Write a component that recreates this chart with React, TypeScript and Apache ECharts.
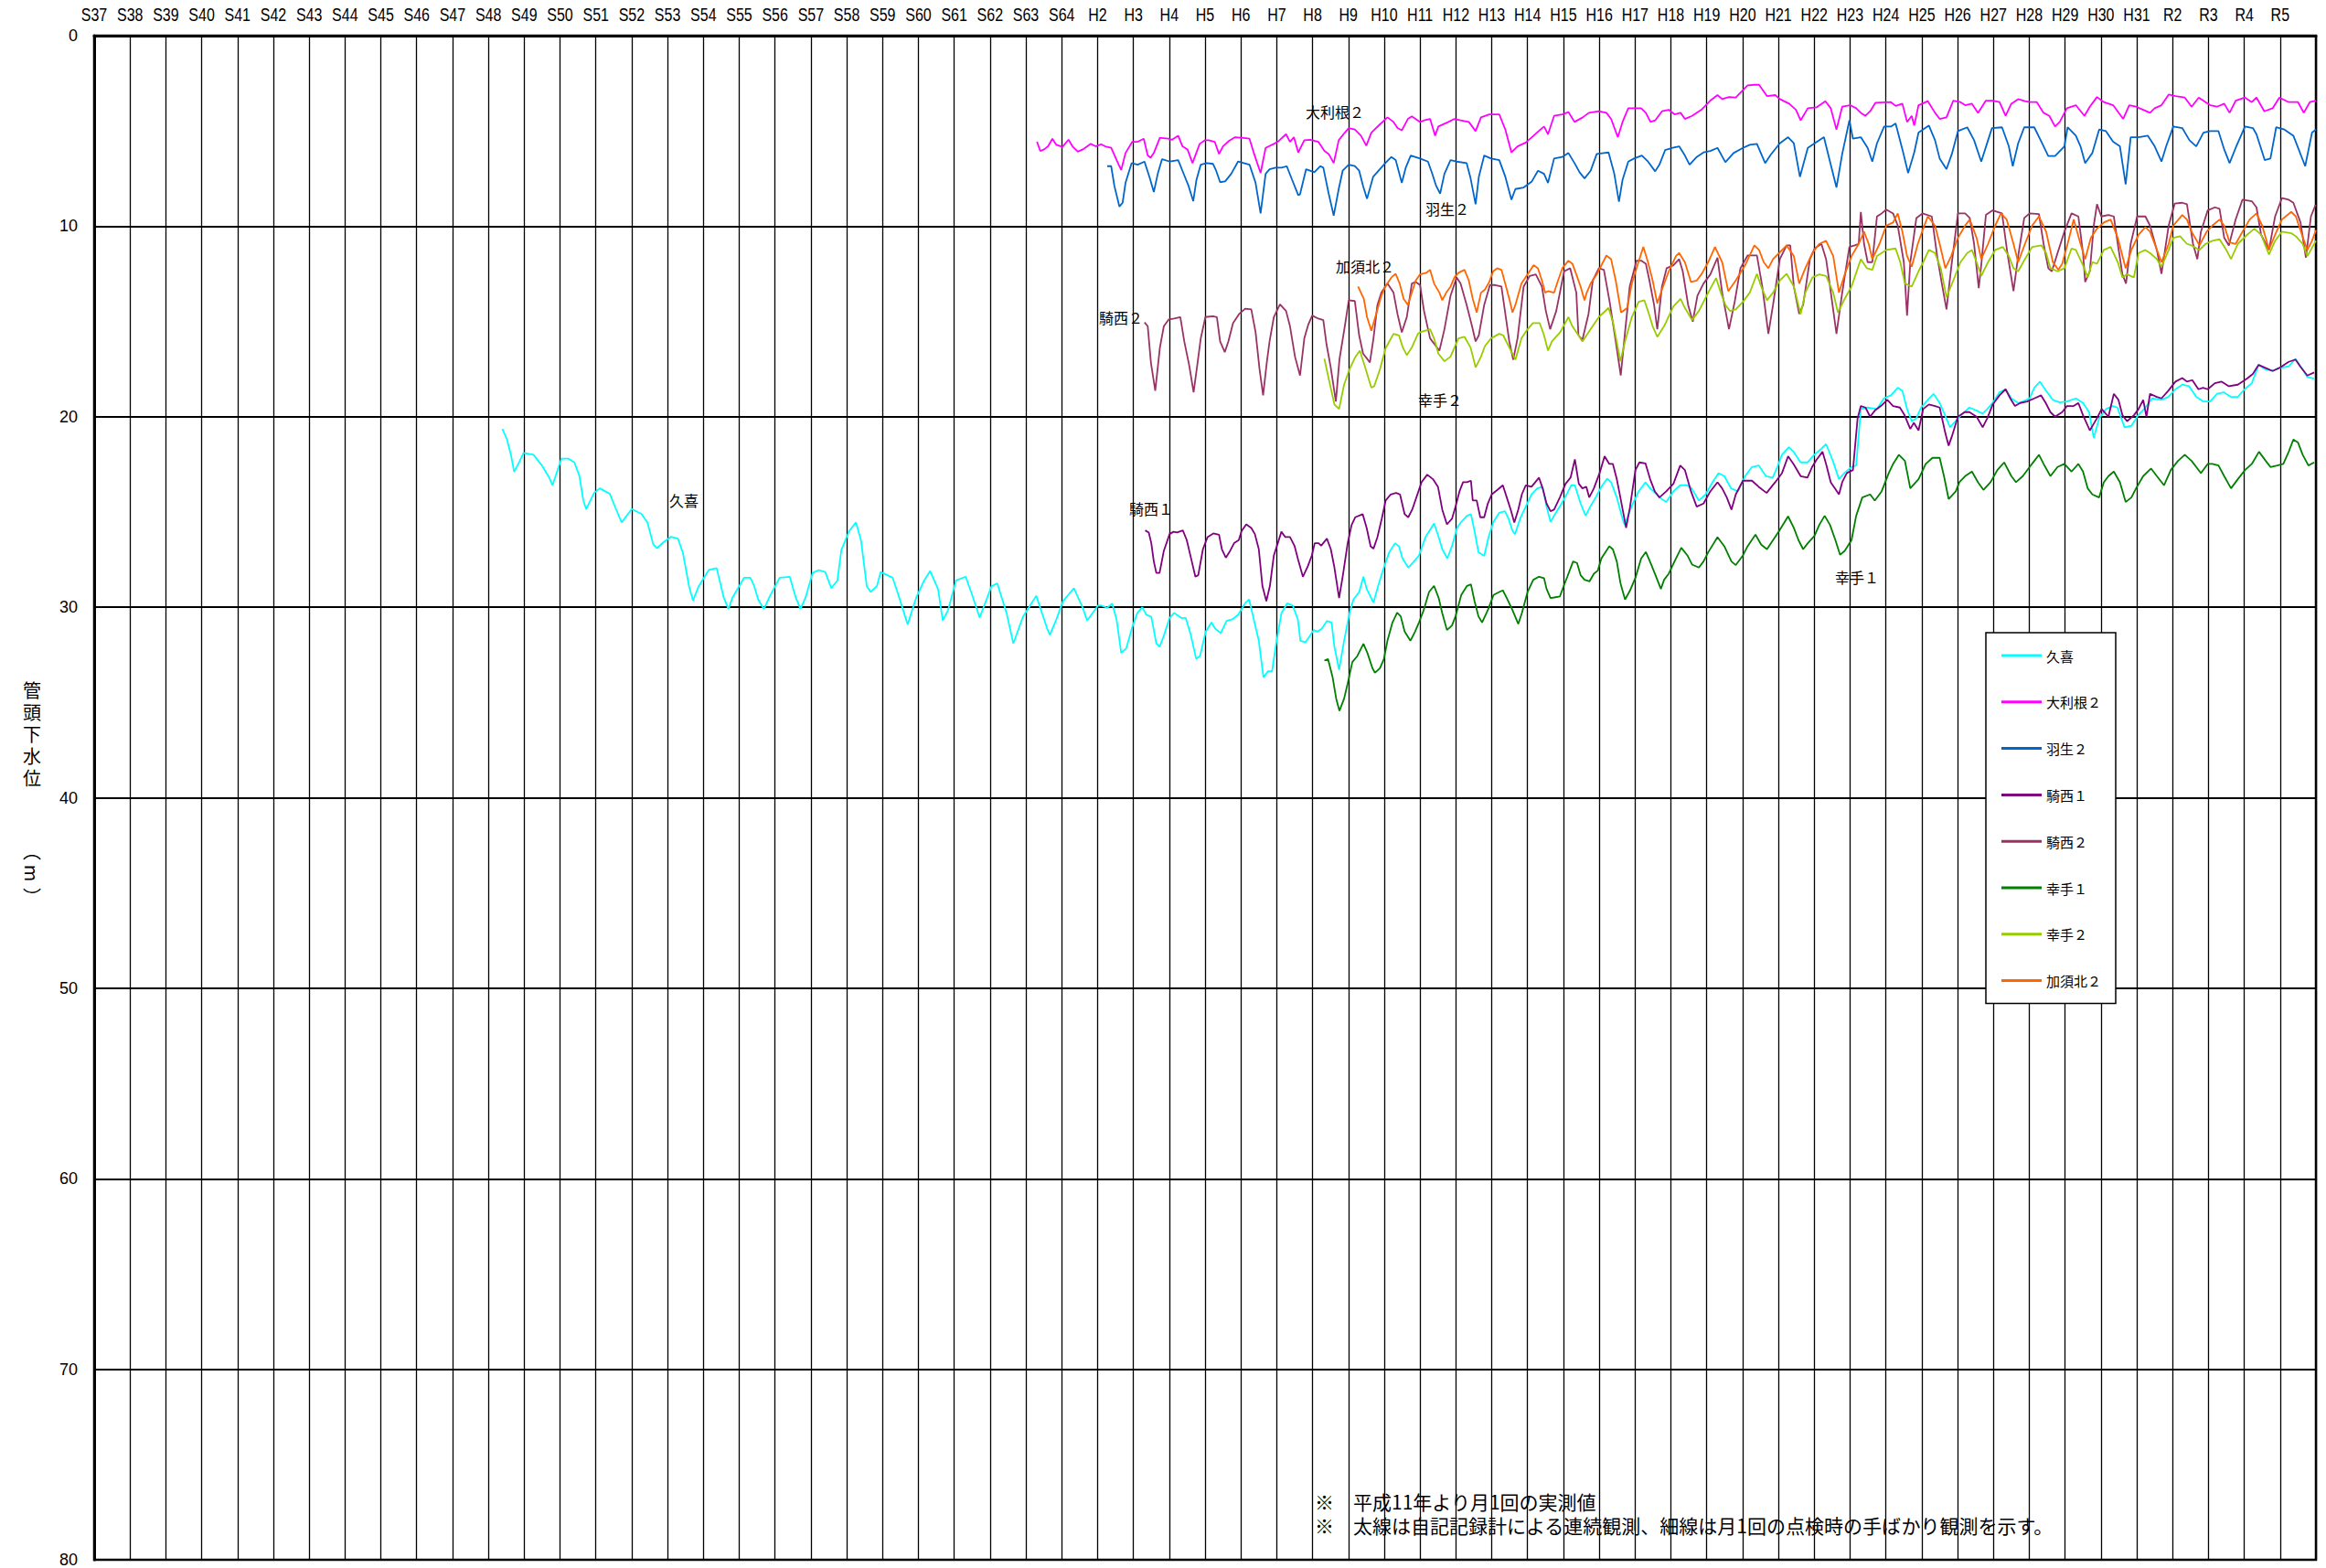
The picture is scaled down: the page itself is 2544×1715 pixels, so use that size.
import React, { useEffect, useRef } from 'react';
import * as echarts from 'echarts';

const yearLabels = [
  'S37','S38','S39','S40','S41','S42','S43','S44','S45','S46','S47','S48','S49','S50','S51','S52','S53','S54','S55','S56',
  'S57','S58','S59','S60','S61','S62','S63','S64','H2','H3','H4','H5','H6','H7','H8','H9','H10','H11','H12','H13',
  'H14','H15','H16','H17','H18','H19','H20','H21','H22','H23','H24','H25','H26','H27','H28','H29','H30','H31','R2','R3',
  'R4','R5'
];
const firstYear = 1962;
const lastYear = 2024;

const seriesNames = ['久喜', '大利根２', '羽生２', '騎西１', '騎西２', '幸手１', '幸手２', '加須北２'];
const seriesColors = ['#00FFFF', '#FF00FF', '#0066CC', '#800080', '#993366', '#008000', '#99CC00', '#FF6600'];

// [year, depth below well head (m)]
const kuki = [
  [1973.39,20.64],[1973.52,21.2],[1973.63,22.0],[1973.72,22.9],[1973.87,22.35],[1973.98,21.9],[1974.26,22.0],[1974.51,22.6],[1974.7,23.2],[1974.79,23.6],
  [1975.04,22.2],[1975.23,22.2],[1975.4,22.4],[1975.54,23.1],[1975.65,24.4],[1975.73,24.85],[1975.95,24.0],[1976.11,23.76],[1976.39,24.05],[1976.55,24.8],
  [1976.72,25.55],[1977.0,24.85],[1977.27,25.1],[1977.44,25.55],[1977.6,26.7],[1977.71,26.9],[1977.88,26.6],[1978.1,26.3],[1978.29,26.4],[1978.43,27.15],
  [1978.6,28.9],[1978.71,29.65],[1978.87,28.9],[1979.15,28.05],[1979.37,27.95],[1979.57,29.5],[1979.7,30.1],[1979.81,29.5],[1980.14,28.45],[1980.31,28.45],
  [1980.42,28.9],[1980.53,29.6],[1980.69,30.1],[1980.86,29.4],[1981.13,28.45],[1981.41,28.4],[1981.58,29.5],[1981.71,30.1],[1981.85,29.5],[1982.05,28.2],
  [1982.22,28.05],[1982.4,28.15],[1982.57,29.0],[1982.74,28.6],[1982.85,27.0],[1983.07,26.0],[1983.26,25.55],[1983.4,26.5],[1983.56,28.9],[1983.67,29.2],
  [1983.84,28.9],[1983.95,28.15],[1984.28,28.45],[1984.45,29.4],[1984.7,30.9],[1984.94,29.5],[1985.16,28.6],[1985.33,28.1],[1985.55,29.05],[1985.68,30.7],
  [1985.83,30.15],[1986.05,28.6],[1986.32,28.4],[1986.49,29.3],[1986.71,30.55],[1987.04,28.9],[1987.2,28.75],[1987.46,30.3],[1987.65,31.9],[1987.92,30.5],
  [1988.29,29.4],[1988.59,31.1],[1988.67,31.45],[1988.86,30.6],[1989.03,29.7],[1989.34,29.0],[1989.58,30.0],[1989.71,30.7],[1990.02,29.9],[1990.11,29.92],
  [1990.27,30.03],[1990.41,29.81],[1990.53,30.64],[1990.66,32.4],[1990.8,32.16],[1990.96,31.1],[1991.11,30.3],[1991.25,30.0],[1991.36,30.4],[1991.5,30.5],
  [1991.64,31.9],[1991.73,32.08],[1991.85,31.5],[1992.01,30.56],[1992.14,30.3],[1992.33,30.56],[1992.46,30.56],[1992.6,31.44],[1992.75,32.7],[1992.86,32.56],
  [1993.02,31.28],[1993.18,30.8],[1993.28,31.12],[1993.44,31.36],[1993.6,30.72],[1993.76,30.64],[1993.92,30.4],[1994.13,29.76],[1994.23,29.6],[1994.34,30.48],
  [1994.5,31.76],[1994.63,33.68],[1994.76,33.36],[1994.87,33.36],[1994.97,32.08],[1995.13,30.32],[1995.29,29.8],[1995.45,29.92],[1995.59,30.64],[1995.66,31.76],
  [1995.8,31.84],[1995.92,31.52],[1996.03,31.2],[1996.14,31.28],[1996.26,31.12],[1996.4,30.72],[1996.53,30.8],[1996.61,32.08],[1996.74,33.28],[1996.88,31.76],
  [1997.03,30.32],[1997.14,29.6],[1997.3,29.2],[1997.42,28.4],[1997.51,29.04],[1997.7,29.76],[1997.83,28.88],[1997.99,27.92],[1998.14,27.12],[1998.3,26.64],
  [1998.41,26.8],[1998.51,27.44],[1998.67,27.92],[1998.83,27.6],[1998.97,27.28],[1999.15,26.32],[1999.31,25.84],[1999.39,25.6],[1999.52,26.32],[1999.62,26.96],
  [1999.76,27.44],[1999.89,26.8],[2000.03,25.84],[2000.15,25.52],[2000.31,25.2],[2000.42,25.12],[2000.52,26.0],[2000.63,27.12],[2000.79,27.31],[2000.91,26.32],
  [2001.05,25.52],[2001.21,25.04],[2001.37,24.96],[2001.47,25.36],[2001.58,26.0],[2001.65,26.16],[2001.79,25.36],[2001.95,24.72],[2002.11,24.08],[2002.27,23.76],
  [2002.42,23.68],[2002.53,24.72],[2002.64,25.52],[2002.79,25.04],[2002.95,24.56],[2003.11,24.0],[2003.22,23.6],[2003.32,23.6],[2003.48,24.56],[2003.62,25.2],
  [2003.75,24.72],[2003.9,24.24],[2004.06,23.68],[2004.22,23.25],[2004.33,23.44],[2004.49,24.24],[2004.65,25.36],[2004.71,25.68],[2004.9,24.72],[2005.1,23.92],
  [2005.29,23.44],[2005.42,23.76],[2005.61,24.08],[2005.74,24.32],[2005.87,24.48],[2006.07,23.92],[2006.26,23.6],[2006.45,23.6],[2006.58,23.76],[2006.78,24.4],
  [2006.97,24.08],[2007.16,23.44],[2007.33,22.96],[2007.49,23.12],[2007.68,23.76],[2007.87,23.92],[2008.07,23.12],[2008.26,22.64],[2008.45,22.56],[2008.65,23.12],
  [2008.84,23.2],[2008.97,22.64],[2009.1,22.0],[2009.29,21.6],[2009.42,21.84],[2009.62,22.4],[2009.81,22.4],[2010.0,22.0],[2010.2,21.68],[2010.33,21.44],
  [2010.52,22.32],[2010.69,23.28],[2010.84,22.96],[2011.04,22.64],[2011.17,22.56],[2011.3,19.6],[2011.49,19.52],[2011.75,19.6],[2011.94,19.04],[2012.14,18.88],
  [2012.33,18.48],[2012.46,18.64],[2012.59,19.6],[2012.72,20.24],[2012.85,20.08],[2012.98,19.52],[2013.17,19.12],[2013.33,18.8],[2013.5,19.28],[2013.63,19.84],
  [2013.79,20.56],[2013.94,20.24],[2014.14,19.84],[2014.33,19.52],[2014.53,19.68],[2014.7,19.84],[2014.83,19.6],[2015.01,19.2],[2015.17,18.72],[2015.34,18.56],
  [2015.5,19.04],[2015.69,19.28],[2015.82,19.2],[2016.01,19.04],[2016.14,18.48],[2016.3,18.16],[2016.47,18.64],[2016.66,19.12],[2016.85,19.25],[2017.05,19.2],
  [2017.3,19.04],[2017.5,19.28],[2017.67,19.76],[2017.8,21.12],[2017.95,20.08],[2018.14,19.6],[2018.33,19.44],[2018.46,19.52],[2018.66,20.56],[2018.85,20.48],
  [2019.04,19.92],[2019.24,19.52],[2019.43,19.04],[2019.69,19.12],[2019.88,18.96],[2020.08,18.56],[2020.27,18.32],[2020.46,18.4],[2020.66,18.96],[2020.85,19.2],
  [2021.05,19.2],[2021.24,18.8],[2021.43,18.72],[2021.62,18.96],[2021.82,18.96],[2022.01,18.56],[2022.21,18.24],[2022.4,17.28],[2022.59,17.52],[2022.79,17.6],
  [2022.98,17.44],[2023.24,17.36],[2023.43,16.96],[2023.63,17.52],[2023.76,17.92],[2023.95,18.0]
];

const oTone2 = [
  [1988.31,5.57],[1988.4,6.05],[1988.51,5.97],[1988.62,5.81],[1988.74,5.41],[1988.85,5.73],[1989.02,5.84],[1989.19,5.46],[1989.3,5.81],[1989.45,6.09],
  [1989.59,5.97],[1989.81,5.68],[1989.95,5.81],[1990.1,5.7],[1990.21,5.81],[1990.38,5.89],[1990.59,6.77],[1990.66,7.05],[1990.78,6.16],[1990.97,5.57],
  [1991.12,5.57],[1991.29,5.41],[1991.4,6.29],[1991.48,6.41],[1991.57,6.16],[1991.74,5.36],[1991.97,5.41],[1992.08,5.46],[1992.25,5.25],[1992.37,5.81],
  [1992.51,5.97],[1992.65,6.69],[1992.85,5.68],[1992.99,5.49],[1993.1,5.49],[1993.27,5.57],[1993.39,6.21],[1993.5,5.81],[1993.67,5.52],[1993.84,5.33],
  [1994.01,5.36],[1994.24,5.41],[1994.37,6.21],[1994.55,7.21],[1994.69,5.89],[1994.92,5.68],[1995.03,5.57],[1995.26,5.17],[1995.37,5.57],[1995.48,5.33],
  [1995.6,6.13],[1995.77,5.49],[1995.94,5.46],[1996.16,5.57],[1996.33,6.05],[1996.45,6.21],[1996.59,6.69],[1996.73,5.49],[1996.9,5.09],[1997.01,4.85],
  [1997.18,4.93],[1997.35,5.25],[1997.5,5.78],[1997.64,5.09],[1997.86,4.69],[1998.09,4.29],[1998.26,4.53],[1998.37,4.85],[1998.49,4.97],[1998.66,4.37],
  [1998.77,4.24],[1999.0,4.53],[1999.11,4.45],[1999.28,4.37],[1999.42,5.25],[1999.51,4.77],[1999.79,4.53],[1999.96,4.37],[2000.13,4.45],[2000.36,4.53],
  [2000.55,5.01],[2000.7,4.29],[2000.93,4.13],[2001.21,4.13],[2001.38,4.93],[2001.55,6.13],[2001.72,5.81],[2001.95,5.61],[2002.12,5.33],[2002.31,5.01],
  [2002.46,4.77],[2002.57,5.17],[2002.74,4.21],[2002.97,4.13],[2003.14,4.01],[2003.31,4.53],[2003.54,4.29],[2003.71,4.05],[2003.99,3.97],[2004.2,4.05],
  [2004.33,4.37],[2004.52,5.33],[2004.65,4.53],[2004.81,3.81],[2005.17,3.81],[2005.3,4.05],[2005.43,4.53],[2005.56,4.45],[2005.75,3.97],[2005.94,3.89],
  [2006.1,4.13],[2006.27,4.05],[2006.39,4.37],[2006.59,4.21],[2006.85,3.89],[2007.1,3.41],[2007.3,3.12],[2007.43,3.33],[2007.62,3.22],[2007.81,3.25],
  [2008.14,2.61],[2008.33,2.58],[2008.46,2.58],[2008.68,3.17],[2008.91,3.12],[2009.04,3.33],[2009.3,3.57],[2009.49,3.89],[2009.62,4.45],[2009.82,3.81],
  [2010.07,3.76],[2010.31,3.44],[2010.46,3.81],[2010.62,4.93],[2010.78,3.73],[2011.0,3.65],[2011.17,3.81],[2011.3,4.05],[2011.43,4.21],[2011.56,3.97],
  [2011.71,3.52],[2011.95,3.5],[2012.14,3.49],[2012.27,3.69],[2012.46,3.57],[2012.59,4.53],[2012.72,4.21],[2012.79,4.72],[2012.91,3.65],[2013.17,3.44],
  [2013.37,4.05],[2013.5,4.37],[2013.69,4.29],[2013.88,3.41],[2014.08,3.49],[2014.21,3.65],[2014.4,3.57],[2014.57,4.05],[2014.79,3.41],[2014.98,3.41],
  [2015.17,3.49],[2015.34,4.21],[2015.5,3.57],[2015.69,3.33],[2015.88,3.44],[2016.01,3.49],[2016.21,3.49],[2016.4,4.05],[2016.56,4.21],[2016.72,4.77],
  [2016.85,4.53],[2017.05,3.81],[2017.3,3.65],[2017.54,4.21],[2017.69,3.73],[2017.89,3.22],[2018.08,3.49],[2018.34,3.65],[2018.62,4.37],[2018.79,3.65],
  [2018.98,3.73],[2019.18,3.89],[2019.37,4.05],[2019.5,3.81],[2019.69,3.65],[2019.89,3.09],[2020.08,3.17],[2020.34,3.25],[2020.53,3.73],[2020.73,3.25],
  [2020.92,3.49],[2021.05,3.65],[2021.24,3.73],[2021.44,3.57],[2021.59,4.05],[2021.76,3.41],[2022.02,3.25],[2022.21,3.49],[2022.34,3.25],[2022.56,3.97],
  [2022.79,3.81],[2022.98,3.25],[2023.24,3.49],[2023.5,3.49],[2023.66,4.05],[2023.83,3.49],[2024.0,3.41]
];

const hanyu2 = [
  [1990.27,6.85],[1990.38,6.85],[1990.47,7.89],[1990.61,8.97],[1990.7,8.77],[1990.78,7.73],[1990.95,6.69],[1991.12,6.77],[1991.31,6.61],[1991.46,7.49],
  [1991.57,8.21],[1991.68,7.25],[1991.8,6.48],[1992.02,6.61],[1992.25,6.53],[1992.42,7.33],[1992.54,7.89],[1992.67,8.69],[1992.76,7.57],[1992.88,6.77],
  [1993.05,6.69],[1993.22,6.73],[1993.31,7.09],[1993.42,7.69],[1993.56,7.65],[1993.73,7.25],[1993.92,6.61],[1994.24,6.77],[1994.41,7.73],[1994.55,9.33],
  [1994.69,7.25],[1994.8,7.01],[1994.97,6.93],[1995.14,6.93],[1995.28,6.85],[1995.43,7.57],[1995.6,8.37],[1995.65,8.33],[1995.82,7.01],[1996.05,7.17],
  [1996.22,6.85],[1996.3,6.93],[1996.45,8.29],[1996.59,9.45],[1996.73,8.05],[1996.84,7.09],[1997.01,6.77],[1997.18,6.85],[1997.3,7.09],[1997.41,7.89],
  [1997.52,8.56],[1997.69,7.41],[1997.86,7.05],[1998.03,6.69],[1998.2,6.37],[1998.32,6.53],[1998.49,7.73],[1998.6,6.93],[1998.74,6.29],[1999.0,6.45],
  [1999.22,6.61],[1999.34,7.25],[1999.45,7.89],[1999.56,8.29],[1999.68,7.25],[1999.85,6.53],[2000.02,6.61],[2000.3,6.69],[2000.41,7.49],[2000.55,8.85],
  [2000.64,7.41],[2000.79,6.29],[2000.98,6.45],[2001.21,6.53],[2001.38,7.41],[2001.55,8.61],[2001.66,8.05],[2001.89,7.97],[2002.12,7.65],[2002.29,7.09],
  [2002.46,7.25],[2002.57,7.73],[2002.74,6.45],[2002.97,6.37],[2003.14,6.16],[2003.31,6.69],[2003.45,7.17],[2003.59,7.49],[2003.76,7.09],[2003.93,6.21],
  [2004.13,6.16],[2004.26,6.13],[2004.42,7.25],[2004.55,8.72],[2004.65,7.57],[2004.81,6.61],[2004.97,6.45],[2005.19,6.29],[2005.36,6.61],[2005.56,7.12],
  [2005.68,6.77],[2005.84,6.0],[2006.05,5.89],[2006.23,5.81],[2006.39,6.29],[2006.52,6.77],[2006.72,6.37],[2006.91,6.13],[2007.1,6.05],[2007.3,5.89],
  [2007.52,6.64],[2007.75,6.16],[2008.01,5.89],[2008.2,5.73],[2008.4,5.68],[2008.63,6.69],[2008.78,6.26],[2009.04,5.65],[2009.27,5.33],[2009.43,5.65],
  [2009.6,7.41],[2009.82,5.89],[2010.01,5.65],[2010.27,5.33],[2010.46,6.77],[2010.62,7.97],[2010.78,6.21],[2010.98,4.45],[2011.08,5.41],[2011.3,5.33],
  [2011.49,5.89],[2011.62,6.61],[2011.75,5.65],[2011.95,4.77],[2012.14,4.77],[2012.27,4.61],[2012.46,5.97],[2012.62,7.21],[2012.79,6.13],[2012.91,5.09],
  [2013.2,4.72],[2013.37,5.49],[2013.5,6.45],[2013.69,7.01],[2013.84,6.21],[2014.01,5.01],[2014.27,4.81],[2014.46,5.49],[2014.66,6.61],[2014.85,5.49],
  [2014.96,4.85],[2015.24,4.81],[2015.43,5.81],[2015.54,6.85],[2015.69,5.65],[2015.86,4.81],[2016.14,4.81],[2016.34,5.57],[2016.53,6.32],[2016.72,6.32],
  [2016.98,5.81],[2017.07,4.81],[2017.3,5.25],[2017.43,5.81],[2017.56,6.69],[2017.76,6.16],[2017.95,4.93],[2018.14,5.01],[2018.34,5.57],[2018.53,5.81],
  [2018.69,7.81],[2018.83,5.33],[2019.05,5.33],[2019.31,5.25],[2019.5,5.81],[2019.69,6.61],[2019.82,5.81],[2020.02,4.77],[2020.27,4.85],[2020.47,5.49],
  [2020.66,5.81],[2020.86,5.09],[2021.05,5.01],[2021.28,5.01],[2021.44,5.97],[2021.59,6.69],[2021.76,5.89],[2022.02,4.77],[2022.24,4.85],[2022.34,5.17],
  [2022.57,6.53],[2022.73,6.45],[2022.89,4.81],[2023.12,4.93],[2023.37,5.25],[2023.7,6.85],[2023.89,5.09],[2024.0,4.93]
];

const kisai1 = [
  [1991.33,25.97],[1991.43,26.08],[1991.5,26.64],[1991.57,27.6],[1991.64,28.2],[1991.73,28.2],[1991.85,27.04],[1992.01,26.16],[1992.12,26.04],[1992.22,26.08],
  [1992.38,25.97],[1992.49,26.48],[1992.63,27.6],[1992.73,28.4],[1992.81,28.32],[1992.94,26.96],[1993.07,26.32],[1993.23,26.13],[1993.39,26.2],[1993.47,26.96],
  [1993.58,27.4],[1993.7,27.04],[1993.81,26.64],[1993.94,26.48],[1994.02,26.0],[1994.15,25.65],[1994.29,25.84],[1994.39,26.16],[1994.5,26.96],[1994.6,28.88],
  [1994.71,29.68],[1994.81,28.88],[1994.92,27.28],[1995.03,26.64],[1995.13,26.04],[1995.24,26.32],[1995.37,26.32],[1995.5,26.8],[1995.61,27.6],[1995.73,28.4],
  [1995.87,27.84],[1995.98,27.28],[1996.06,26.64],[1996.17,26.64],[1996.24,26.77],[1996.4,26.4],[1996.51,26.96],[1996.61,27.92],[1996.74,29.52],[1996.84,28.4],
  [1996.98,26.64],[1997.09,25.68],[1997.19,25.28],[1997.4,25.12],[1997.51,25.84],[1997.62,26.8],[1997.7,26.93],[1997.81,26.32],[1997.93,25.36],[1998.04,24.4],
  [1998.18,24.08],[1998.33,24.0],[1998.44,24.08],[1998.57,25.12],[1998.67,25.28],[1998.78,24.88],[1998.94,24.0],[1999.04,23.44],[1999.2,23.04],[1999.36,23.28],
  [1999.5,23.68],[1999.62,24.88],[1999.75,25.65],[1999.89,25.36],[1999.99,24.72],[2000.1,23.92],[2000.2,23.44],[2000.31,23.44],[2000.42,23.36],[2000.47,24.4],
  [2000.58,24.4],[2000.68,25.28],[2000.79,25.28],[2000.89,24.56],[2001.0,24.08],[2001.16,23.84],[2001.31,23.6],[2001.42,24.24],[2001.53,24.88],[2001.63,25.55],
  [2001.74,24.88],[2001.84,24.08],[2001.95,23.6],[2002.11,23.68],[2002.32,23.2],[2002.42,23.76],[2002.53,24.56],[2002.64,24.96],[2002.74,24.88],[2002.9,24.24],
  [2003.06,23.52],[2003.2,23.2],[2003.32,22.24],[2003.43,23.52],[2003.53,23.76],[2003.64,23.68],[2003.72,24.24],[2003.85,23.76],[2004.01,22.96],[2004.15,22.08],
  [2004.28,22.48],[2004.38,22.48],[2004.49,23.28],[2004.59,24.24],[2004.75,25.84],[2004.86,24.72],[2005.01,22.8],[2005.12,22.4],[2005.29,22.45],[2005.42,23.28],
  [2005.55,23.92],[2005.68,24.24],[2005.87,23.92],[2006.07,23.52],[2006.26,22.56],[2006.39,22.8],[2006.56,23.92],[2006.72,24.72],[2006.91,24.56],[2007.1,23.92],
  [2007.3,23.44],[2007.43,23.76],[2007.56,24.24],[2007.69,24.88],[2007.81,24.08],[2008.01,23.36],[2008.26,23.36],[2008.45,23.68],[2008.67,24.0],[2008.91,23.44],
  [2009.1,22.96],[2009.27,22.08],[2009.42,22.48],[2009.62,23.12],[2009.81,23.2],[2009.94,22.64],[2010.07,22.24],[2010.23,21.84],[2010.33,22.48],[2010.46,23.44],
  [2010.69,24.08],[2010.78,23.44],[2010.91,22.96],[2011.08,22.8],[2011.21,20.08],[2011.3,19.44],[2011.43,19.52],[2011.56,20.0],[2011.69,19.68],[2011.86,19.44],
  [2012.04,19.12],[2012.2,19.44],[2012.39,19.52],[2012.52,19.92],[2012.68,20.64],[2012.78,20.32],[2012.91,20.72],[2013.04,19.6],[2013.2,19.36],[2013.37,19.44],
  [2013.5,19.52],[2013.66,20.88],[2013.75,21.52],[2013.84,21.04],[2014.01,20.0],[2014.2,19.76],[2014.33,19.76],[2014.53,20.0],[2014.7,20.56],[2014.83,20.08],
  [2014.98,19.36],[2015.17,18.88],[2015.34,18.56],[2015.47,19.04],[2015.6,19.44],[2015.75,19.28],[2015.94,19.2],[2016.14,19.04],[2016.33,18.88],[2016.46,19.28],
  [2016.59,19.76],[2016.72,20.0],[2016.92,19.76],[2017.05,19.44],[2017.24,19.44],[2017.37,19.28],[2017.5,19.92],[2017.69,20.72],[2017.89,20.08],[2018.02,19.6],
  [2018.21,20.0],[2018.36,18.8],[2018.49,19.12],[2018.6,19.92],[2018.73,20.24],[2018.92,19.92],[2019.05,19.6],[2019.18,19.12],[2019.27,20.0],[2019.37,18.8],
  [2019.56,18.96],[2019.69,19.04],[2019.88,18.64],[2020.08,18.16],[2020.27,17.97],[2020.4,18.16],[2020.55,18.08],[2020.72,18.56],[2020.85,18.48],[2020.98,18.56],
  [2021.18,18.24],[2021.37,18.16],[2021.57,18.4],[2021.82,18.32],[2022.08,18.0],[2022.24,17.76],[2022.4,17.28],[2022.59,17.44],[2022.79,17.6],[2022.98,17.44],
  [2023.24,17.12],[2023.43,17.0],[2023.56,17.36],[2023.76,17.84],[2023.95,17.68]
];

const kisai2 = [
  [1991.31,15.05],[1991.4,15.25],[1991.49,17.17],[1991.61,18.64],[1991.74,16.37],[1991.85,15.25],[1991.99,14.89],[1992.14,14.85],[1992.31,14.77],[1992.42,16.05],
  [1992.56,17.33],[1992.68,18.72],[1992.78,17.33],[1992.88,15.89],[1993.01,14.77],[1993.22,14.73],[1993.33,14.77],[1993.42,16.05],[1993.55,16.61],[1993.65,16.05],
  [1993.78,15.09],[1993.95,14.61],[1994.12,14.33],[1994.29,14.37],[1994.41,15.57],[1994.52,17.5],[1994.62,18.88],[1994.72,17.2],[1994.8,16.05],[1994.92,14.77],
  [1995.09,14.1],[1995.26,14.45],[1995.37,15.25],[1995.51,16.85],[1995.65,17.84],[1995.77,15.89],[1995.88,15.17],[1995.99,14.69],[1996.16,14.85],[1996.3,14.93],
  [1996.39,16.21],[1996.5,17.33],[1996.65,19.2],[1996.75,17.0],[1996.9,15.25],[1997.01,13.89],[1997.18,13.93],[1997.3,15.73],[1997.41,16.69],[1997.6,17.15],
  [1997.7,15.89],[1997.81,14.13],[1997.92,13.49],[1998.09,13.01],[1998.26,13.49],[1998.37,14.61],[1998.49,15.57],[1998.63,14.77],[1998.77,13.01],[1998.88,12.93],
  [1999.0,13.09],[1999.11,14.45],[1999.28,15.89],[1999.54,16.53],[1999.68,15.41],[1999.85,13.65],[2000.02,12.69],[2000.13,13.01],[2000.3,14.13],[2000.45,15.25],
  [2000.55,16.05],[2000.64,15.73],[2000.79,14.13],[2000.95,13.09],[2001.1,13.09],[2001.27,13.17],[2001.38,14.61],[2001.49,16.05],[2001.6,17.01],[2001.72,15.89],
  [2001.89,13.17],[2002.06,12.61],[2002.23,12.53],[2002.4,13.17],[2002.51,14.45],[2002.63,15.41],[2002.8,14.45],[2003.02,12.37],[2003.19,12.21],[2003.36,13.49],
  [2003.42,15.73],[2003.53,15.97],[2003.7,14.61],[2003.82,12.85],[2003.99,12.21],[2004.13,12.29],[2004.29,13.97],[2004.46,16.05],[2004.6,17.84],[2004.72,15.57],
  [2004.85,13.17],[2005.04,11.81],[2005.17,11.81],[2005.3,11.97],[2005.4,12.85],[2005.53,14.13],[2005.62,15.41],[2005.75,13.17],[2005.88,12.21],[2006.07,12.05],
  [2006.23,11.73],[2006.33,12.37],[2006.48,14.13],[2006.61,15.01],[2006.74,13.65],[2006.91,13.01],[2007.1,12.53],[2007.3,11.65],[2007.43,13.49],[2007.62,15.41],
  [2007.78,13.97],[2007.94,12.21],[2008.14,11.54],[2008.4,11.54],[2008.55,13.17],[2008.72,15.65],[2008.85,14.13],[2009.04,11.73],[2009.23,11.01],[2009.33,11.01],
  [2009.43,13.17],[2009.58,14.61],[2009.69,14.13],[2009.88,11.73],[2010.01,11.17],[2010.2,10.93],[2010.33,11.73],[2010.44,13.17],[2010.62,15.65],[2010.78,13.49],
  [2010.98,11.09],[2011.13,11.01],[2011.24,10.93],[2011.3,9.25],[2011.39,10.93],[2011.49,11.89],[2011.62,11.89],[2011.75,9.49],[2011.88,9.33],[2012.01,9.13],
  [2012.2,9.33],[2012.33,9.97],[2012.5,11.89],[2012.59,14.69],[2012.68,11.89],[2012.85,9.57],[2013.02,9.33],[2013.28,9.49],[2013.43,11.57],[2013.56,13.01],
  [2013.69,14.37],[2013.82,12.21],[2014.01,9.33],[2014.21,9.33],[2014.34,9.57],[2014.46,10.93],[2014.59,13.25],[2014.66,12.05],[2014.79,9.41],[2014.98,9.17],
  [2015.24,9.33],[2015.39,11.41],[2015.56,13.41],[2015.69,11.57],[2015.86,9.57],[2016.01,9.33],[2016.27,9.36],[2016.4,10.93],[2016.53,12.21],[2016.63,12.37],
  [2016.79,11.41],[2016.98,10.29],[2017.18,9.33],[2017.37,9.49],[2017.5,11.41],[2017.56,12.93],[2017.69,12.37],[2017.8,9.97],[2017.89,8.85],[2018.01,9.49],
  [2018.21,9.41],[2018.36,9.49],[2018.47,10.93],[2018.6,12.53],[2018.7,13.01],[2018.83,10.93],[2019.01,9.49],[2019.24,9.49],[2019.37,9.97],[2019.56,11.25],
  [2019.69,12.5],[2019.89,9.97],[2020.06,8.81],[2020.27,8.77],[2020.4,8.85],[2020.57,10.93],[2020.69,11.73],[2020.79,10.29],[2020.98,9.17],[2021.18,9.01],
  [2021.31,9.09],[2021.44,10.61],[2021.57,11.01],[2021.76,9.65],[2021.95,8.61],[2022.21,8.69],[2022.34,9.01],[2022.47,10.45],[2022.69,11.25],[2022.86,9.49],
  [2023.05,8.53],[2023.24,8.61],[2023.37,8.77],[2023.57,9.81],[2023.72,11.65],[2023.86,9.49],[2023.99,8.88]
];

const satte1 = [
  [1996.33,32.8],[1996.43,32.72],[1996.56,33.68],[1996.66,34.8],[1996.75,35.44],[1996.88,34.8],[1996.98,34.0],[1997.11,32.88],[1997.25,32.56],[1997.42,31.92],
  [1997.53,32.4],[1997.67,33.2],[1997.74,33.44],[1997.88,33.2],[1997.99,32.72],[1998.09,31.76],[1998.23,30.8],[1998.36,30.29],[1998.46,30.48],[1998.57,31.28],
  [1998.73,31.76],[1998.86,31.28],[1998.97,30.8],[1999.1,30.16],[1999.25,29.2],[1999.39,28.88],[1999.52,29.52],[1999.62,30.32],[1999.75,31.2],[1999.89,30.96],
  [1999.99,30.48],[2000.15,29.36],[2000.31,28.88],[2000.42,28.8],[2000.52,29.68],[2000.63,30.48],[2000.73,30.8],[2000.89,30.16],[2001.05,29.36],[2001.21,29.2],
  [2001.31,29.12],[2001.42,29.52],[2001.58,30.16],[2001.74,30.88],[2001.84,30.32],[2002.0,29.2],[2002.16,28.56],[2002.32,28.4],[2002.46,28.48],[2002.53,29.04],
  [2002.64,29.52],[2002.74,29.49],[2002.9,29.44],[2003.01,28.88],[2003.11,28.4],[2003.27,27.6],[2003.38,27.68],[2003.48,28.32],[2003.59,28.56],[2003.73,28.64],
  [2003.85,28.24],[2003.96,28.08],[2004.06,27.44],[2004.28,26.8],[2004.38,26.96],[2004.49,27.6],[2004.59,28.72],[2004.72,29.6],[2004.86,29.12],[2005.02,28.4],
  [2005.17,27.44],[2005.3,27.1],[2005.45,27.76],[2005.62,28.56],[2005.72,29.04],[2005.81,28.56],[2005.94,28.24],[2006.1,27.6],[2006.29,26.88],[2006.46,27.28],
  [2006.59,27.76],[2006.78,27.92],[2006.91,27.6],[2007.04,27.12],[2007.3,26.32],[2007.49,26.8],[2007.69,27.6],[2007.81,27.79],[2008.01,27.28],[2008.14,26.8],
  [2008.36,26.19],[2008.52,26.72],[2008.68,26.96],[2008.85,26.48],[2009.02,26.0],[2009.27,25.23],[2009.43,25.84],[2009.56,26.48],[2009.69,26.96],[2009.82,26.64],
  [2010.01,26.24],[2010.14,25.68],[2010.29,25.2],[2010.44,25.68],[2010.59,26.48],[2010.72,27.25],[2010.85,27.04],[2011.04,26.48],[2011.17,25.2],[2011.34,24.24],
  [2011.56,24.08],[2011.69,24.4],[2011.88,23.92],[2012.08,22.96],[2012.2,22.48],[2012.36,22.0],[2012.53,22.32],[2012.68,23.76],[2012.91,23.28],[2013.11,22.48],
  [2013.3,22.16],[2013.5,22.16],[2013.62,23.12],[2013.75,24.32],[2013.95,23.92],[2014.05,23.44],[2014.21,23.12],[2014.4,22.88],[2014.57,23.44],[2014.72,23.84],
  [2014.92,23.44],[2015.11,22.8],[2015.3,22.4],[2015.5,23.12],[2015.63,23.44],[2015.82,23.12],[2016.01,22.64],[2016.14,22.32],[2016.27,22.0],[2016.4,22.48],
  [2016.59,23.12],[2016.79,22.64],[2016.98,22.48],[2017.18,22.88],[2017.37,22.48],[2017.5,22.88],[2017.63,23.76],[2017.76,24.08],[2017.95,24.24],[2018.08,23.44],
  [2018.21,23.12],[2018.36,22.88],[2018.53,23.44],[2018.69,24.48],[2018.85,24.24],[2018.98,23.76],[2019.18,23.12],[2019.4,22.72],[2019.56,23.12],[2019.76,23.6],
  [2019.95,22.8],[2020.15,22.32],[2020.34,22.0],[2020.53,22.32],[2020.79,22.96],[2020.98,22.48],[2021.11,22.48],[2021.28,22.56],[2021.44,23.12],[2021.63,23.76],
  [2021.82,23.28],[2022.02,22.8],[2022.21,22.48],[2022.41,21.84],[2022.6,22.32],[2022.73,22.64],[2022.92,22.56],[2023.09,22.48],[2023.24,21.84],[2023.37,21.2],
  [2023.5,21.36],[2023.63,22.0],[2023.79,22.56],[2023.95,22.4]
];

const satte2 = [
  [1996.33,16.96],[1996.45,18.0],[1996.61,19.36],[1996.74,19.6],[1996.88,18.32],[1997.03,17.52],[1997.19,16.88],[1997.32,16.53],[1997.46,17.36],[1997.64,18.48],
  [1997.72,18.4],[1997.88,17.52],[1998.04,16.4],[1998.26,15.65],[1998.41,15.73],[1998.52,16.37],[1998.63,16.77],[1998.77,16.37],[1998.94,15.65],[1999.0,15.57],
  [1999.28,15.41],[1999.39,15.89],[1999.51,16.69],[1999.68,17.09],[1999.85,16.85],[1999.96,16.37],[2000.07,15.89],[2000.24,15.81],[2000.41,16.37],[2000.55,17.41],
  [2000.7,16.85],[2000.81,16.29],[2000.98,15.89],[2001.21,15.65],[2001.32,15.73],[2001.49,16.37],[2001.66,17.01],[2001.83,15.89],[2002.0,15.41],[2002.15,15.09],
  [2002.34,15.09],[2002.46,15.73],[2002.57,16.53],[2002.68,16.05],[2002.91,15.57],[2003.14,14.77],[2003.25,15.25],[2003.42,15.73],[2003.53,16.05],[2003.76,15.41],
  [2003.99,14.77],[2004.26,14.29],[2004.39,15.09],[2004.59,17.09],[2004.72,16.05],[2004.91,14.77],[2005.1,13.97],[2005.26,13.89],[2005.36,14.45],[2005.49,15.25],
  [2005.62,15.81],[2005.81,15.25],[2006.07,14.21],[2006.27,13.81],[2006.39,14.29],[2006.59,14.93],[2006.78,14.45],[2007.04,13.49],[2007.26,12.72],[2007.39,13.49],
  [2007.52,14.13],[2007.65,14.45],[2007.81,14.37],[2008.01,13.97],[2008.2,13.49],[2008.4,12.5],[2008.52,13.17],[2008.68,13.89],[2008.85,13.49],[2009.04,12.85],
  [2009.23,12.5],[2009.43,13.17],[2009.62,14.61],[2009.75,13.49],[2009.95,12.69],[2010.14,12.53],[2010.33,12.61],[2010.53,13.49],[2010.66,14.53],[2010.85,13.81],
  [2011.04,13.17],[2011.3,11.73],[2011.47,12.21],[2011.62,12.29],[2011.75,11.57],[2012.01,11.25],[2012.27,11.17],[2012.4,11.89],[2012.53,13.01],[2012.72,13.17],
  [2012.91,12.37],[2013.04,11.89],[2013.2,11.25],[2013.37,11.41],[2013.53,12.21],[2013.69,13.73],[2013.88,12.85],[2014.08,11.89],[2014.27,11.41],[2014.4,11.25],
  [2014.53,11.89],[2014.66,12.61],[2014.85,11.89],[2015.05,11.25],[2015.26,11.09],[2015.43,11.57],[2015.56,12.21],[2015.69,12.37],[2015.88,11.73],[2016.08,11.09],
  [2016.34,11.01],[2016.47,11.41],[2016.59,12.21],[2016.79,12.37],[2016.98,12.21],[2017.18,11.17],[2017.3,11.25],[2017.5,12.05],[2017.63,12.69],[2017.76,11.89],
  [2017.89,11.97],[2018.08,11.25],[2018.27,11.09],[2018.47,11.89],[2018.6,12.69],[2018.73,12.53],[2018.92,12.69],[2019.05,11.41],[2019.24,11.25],[2019.37,11.41],
  [2019.56,11.73],[2019.69,12.13],[2019.89,11.25],[2020.02,10.61],[2020.21,10.53],[2020.4,10.93],[2020.53,11.01],[2020.75,11.25],[2020.92,10.93],[2021.11,10.77],
  [2021.31,10.69],[2021.5,11.25],[2021.63,11.73],[2021.82,10.93],[2022.08,10.45],[2022.28,10.13],[2022.47,10.45],[2022.69,11.49],[2022.86,10.77],[2023.05,10.29],
  [2023.31,10.37],[2023.44,10.53],[2023.63,10.93],[2023.76,11.57],[2024.0,10.77]
];

const kazoKita2 = [
  [1997.27,13.17],[1997.43,13.81],[1997.52,14.77],[1997.64,15.49],[1997.75,14.77],[1997.92,13.65],[1998.03,13.17],[1998.2,12.69],[1998.32,12.5],[1998.43,13.01],
  [1998.54,13.81],[1998.66,14.13],[1998.77,13.49],[1998.88,12.85],[1999.0,12.53],[1999.17,12.45],[1999.28,12.29],[1999.39,13.01],[1999.54,13.49],[1999.62,13.89],
  [1999.73,13.49],[1999.85,13.17],[1999.96,12.69],[2000.07,12.45],[2000.24,12.29],[2000.36,12.85],[2000.47,13.81],[2000.58,14.53],[2000.7,13.49],[2000.81,13.33],
  [2000.93,12.93],[2001.04,12.37],[2001.15,12.21],[2001.27,12.29],[2001.4,13.17],[2001.51,13.97],[2001.58,14.53],[2001.66,14.13],[2001.83,13.01],[2002.0,12.53],
  [2002.17,12.05],[2002.29,12.21],[2002.4,12.85],[2002.49,13.49],[2002.57,13.41],[2002.74,13.49],[2002.85,12.85],[2002.97,12.21],[2003.14,11.81],[2003.25,11.97],
  [2003.36,12.53],[2003.48,13.17],[2003.59,13.89],[2003.65,13.49],[2003.76,13.01],[2003.93,12.53],[2004.2,11.54],[2004.33,11.73],[2004.46,12.85],[2004.61,14.53],
  [2004.78,14.29],[2004.91,13.01],[2005.04,12.21],[2005.23,11.09],[2005.36,11.89],[2005.49,12.85],[2005.62,14.05],[2005.75,13.33],[2005.94,12.37],[2006.14,11.57],
  [2006.23,11.41],[2006.39,11.89],[2006.56,12.93],[2006.72,12.85],[2006.85,12.53],[2007.04,11.89],[2007.23,11.09],[2007.43,11.89],[2007.6,13.41],[2007.81,12.85],
  [2008.07,12.05],[2008.33,11.01],[2008.46,11.25],[2008.59,11.89],[2008.72,12.21],[2008.85,11.73],[2009.02,11.41],[2009.23,11.01],[2009.43,11.57],[2009.58,13.01],
  [2009.75,12.21],[2009.95,11.41],[2010.14,10.93],[2010.33,10.77],[2010.53,11.57],[2010.69,13.49],[2010.85,12.53],[2011.04,11.57],[2011.24,10.93],[2011.39,10.29],
  [2011.52,10.93],[2011.62,11.73],[2011.82,10.93],[2012.01,9.97],[2012.2,9.81],[2012.33,9.33],[2012.46,10.29],[2012.59,11.57],[2012.72,12.13],[2012.89,10.93],
  [2013.04,10.13],[2013.17,9.49],[2013.37,9.97],[2013.5,10.93],[2013.66,12.21],[2013.82,11.57],[2014.01,10.61],[2014.21,9.97],[2014.34,9.65],[2014.53,10.61],
  [2014.66,11.73],[2014.85,10.93],[2015.05,9.97],[2015.21,9.33],[2015.37,9.65],[2015.56,10.93],[2015.69,11.89],[2015.88,10.93],[2016.08,9.97],[2016.27,9.49],
  [2016.47,10.29],[2016.66,11.89],[2016.81,12.29],[2016.92,11.97],[2017.07,10.93],[2017.24,9.65],[2017.43,10.93],[2017.56,11.73],[2017.72,10.61],[2017.89,10.13],
  [2018.08,9.81],[2018.27,9.65],[2018.47,10.61],[2018.69,12.21],[2018.85,11.25],[2019.05,10.45],[2019.24,10.05],[2019.37,10.29],[2019.5,10.93],[2019.69,11.89],
  [2019.89,10.93],[2020.02,9.97],[2020.27,9.41],[2020.4,9.65],[2020.53,10.29],[2020.75,11.01],[2020.95,10.29],[2021.11,9.97],[2021.31,9.65],[2021.44,9.97],
  [2021.59,10.85],[2021.76,10.93],[2021.95,10.29],[2022.15,9.65],[2022.34,9.33],[2022.5,9.97],[2022.69,11.22],[2022.86,10.45],[2023.05,9.65],[2023.31,9.25],
  [2023.44,9.49],[2023.61,10.45],[2023.76,11.25],[2023.89,10.77],[2024.0,10.21]
];

const seriesData = [kuki, oTone2, hanyu2, kisai1, kisai2, satte1, satte2, kazoKita2];

const lineLabels = [
  { text: '大利根２', x: 1428, y: 122 },
  { text: '羽生２', x: 1559, y: 228 },
  { text: '加須北２', x: 1461, y: 291 },
  { text: '騎西２', x: 1202, y: 347 },
  { text: '幸手２', x: 1551, y: 437 },
  { text: '久喜', x: 732, y: 547 },
  { text: '騎西１', x: 1235, y: 556 },
  { text: '幸手１', x: 2007, y: 631 }
];

const axisNameChars = [
  { t: '管', y: 754, r: 0 },
  { t: '頭', y: 778, r: 0 },
  { t: '下', y: 802, r: 0 },
  { t: '水', y: 826, r: 0 },
  { t: '位', y: 850, r: 0 },
  { t: '︵', y: 930, r: 0 },
  { t: 'm', y: 955, r: -Math.PI / 2 },
  { t: '︶', y: 980, r: 0 }
];

const notes = [
  '※　平成11年より月1回の実測値',
  '※　太線は自記記録計による連続観測、細線は月1回の点検時の手ばかり観測を示す。'
];

const cjk = '"Noto Sans CJK JP", "Noto Sans", sans-serif';

export default function App() {
  const ref = useRef<HTMLDivElement>(null);
  useEffect(() => {
    if (!ref.current) return;
    const chart = echarts.init(ref.current, undefined, { renderer: 'svg' });

    chart.setOption({
      animation: false,
      backgroundColor: '#ffffff',
      grid: { left: 103, top: 39, width: 2430, height: 1667, show: true, borderColor: '#000', borderWidth: 2.5, backgroundColor: 'transparent' },
      xAxis: {
        type: 'value', position: 'top', min: firstYear, max: lastYear, interval: 1,
        axisLine: { show: true, lineStyle: { color: '#000', width: 3 } },
        axisTick: { show: false },
        axisLabel: { show: false },
        splitLine: { show: true, lineStyle: { color: '#000', width: 1.3 } }
      },
      yAxis: {
        type: 'value', inverse: true, min: 0, max: 80, interval: 10,
        axisLine: { show: true, lineStyle: { color: '#000', width: 3 } },
        axisTick: { show: false },
        axisLabel: { margin: 18, color: '#000', fontSize: 18, fontFamily: '"Liberation Sans", Arial, sans-serif' },
        splitLine: { show: true, lineStyle: { color: '#000', width: 2 } }
      },
      legend: {
        orient: 'vertical', left: 2172, top: 692,
        data: seriesNames,
        icon: 'rect', itemWidth: 44, itemHeight: 3, itemGap: 32.8,
        padding: [16, 16, 16, 17],
        backgroundColor: '#fff', borderColor: '#000', borderWidth: 1.5,
        selectedMode: false,
        textStyle: { fontSize: 15, color: '#000', fontFamily: cjk, lineHeight: 18 }
      },
      series: seriesNames.map((name, i) => ({
        name, type: 'line', data: seriesData[i], showSymbol: false, symbol: 'none',
        color: seriesColors[i],
        lineStyle: { color: seriesColors[i], width: 1.8 },
        z: 3 + i
      }))
    });

    const graphics: any[] = [];
    // year tick labels (narrow face emulated by horizontal scaling), placed on the axis scale
    yearLabels.forEach((lab, i) => {
      const px = chart.convertToPixel({ xAxisIndex: 0 }, firstYear + i) as number;
      graphics.push({
        type: 'text', x: px, y: 16, scaleX: 0.8,
        style: { text: lab, font: '20px "Liberation Sans", Arial, sans-serif', fill: '#000', textAlign: 'center', textVerticalAlign: 'middle' }
      });
    });
    lineLabels.forEach((l) => {
      graphics.push({
        type: 'text', x: l.x, y: l.y, z: 20,
        style: { text: l.text, font: `16px ${cjk}`, fill: '#000', textAlign: 'left', textVerticalAlign: 'middle' }
      });
    });
    axisNameChars.forEach((c) => {
      graphics.push({
        type: 'text', x: 35, y: c.y, rotation: c.r,
        style: { text: c.t, font: `20px ${cjk}`, fill: '#000', textAlign: 'center', textVerticalAlign: 'middle' }
      });
    });
    notes.forEach((n, i) => {
      graphics.push({
        type: 'text', x: 1438, y: 1642 + i * 26, z: 20,
        style: { text: n, font: `21px ${cjk}`, fill: '#000', textAlign: 'left', textVerticalAlign: 'middle' }
      });
    });
    chart.setOption({ graphic: graphics });

    return () => chart.dispose();
  }, []);
  return <div ref={ref} style={{ position: 'absolute', left: 0, top: 0, width: 2544, height: 1715 }} />;
}
